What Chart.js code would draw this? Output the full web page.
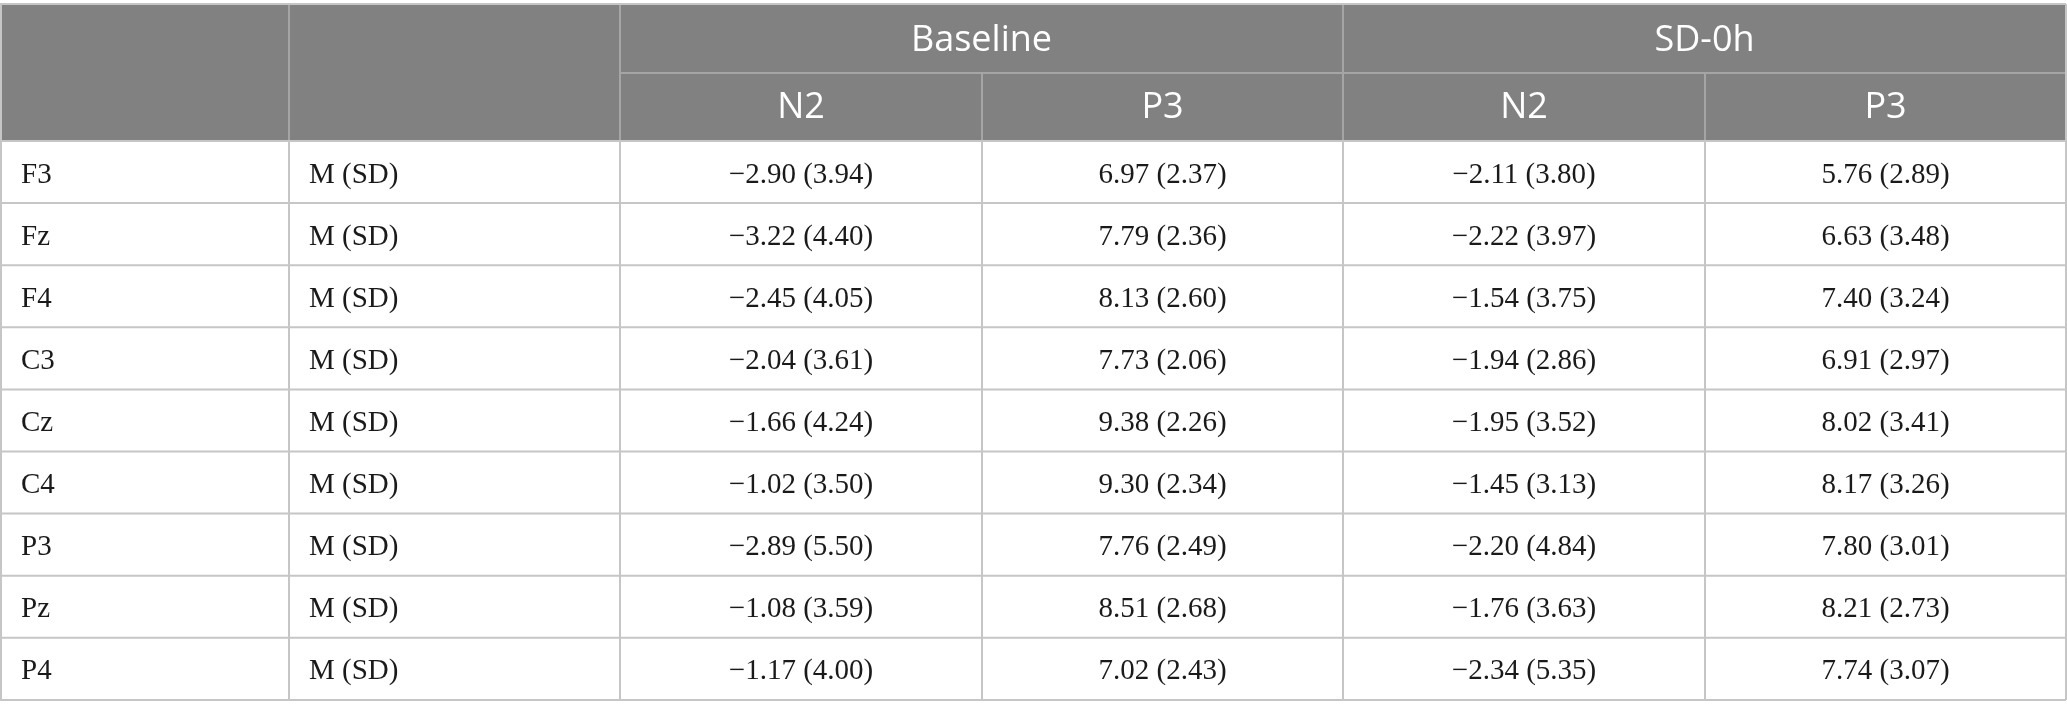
<!DOCTYPE html>
<html lang="en">
  <head>
    <meta charset="UTF-8" />
    <meta name="viewport" content="width=device-width, initial-scale=1.0" />
    <title>N2 and P3 amplitudes by electrode</title>
    <script src="https://cdn.jsdelivr.net/npm/chart.js@4.4.1/dist/chart.umd.min.js"></script>
    <style>
      html, body { margin: 0; padding: 0; background: #fff; }
      canvas { display: block; }
    </style>
  </head>
  <body>
    <canvas id="myChart" width="2067" height="714"></canvas>

    <script>
      // table values
      const electrodes = ["F3", "Fz", "F4", "C3", "Cz", "C4", "P3", "Pz", "P4"];
      const statLabel = "M (SD)";
      const conditions = ["Baseline", "SD-0h"];
      const components = ["N2", "P3"];

      const baselineN2M = [-2.90, -3.22, -2.45, -2.04, -1.66, -1.02, -2.89, -1.08, -1.17];
      const baselineN2SD = [3.94, 4.40, 4.05, 3.61, 4.24, 3.50, 5.50, 3.59, 4.00];
      const baselineP3M = [6.97, 7.79, 8.13, 7.73, 9.38, 9.30, 7.76, 8.51, 7.02];
      const baselineP3SD = [2.37, 2.36, 2.60, 2.06, 2.26, 2.34, 2.49, 2.68, 2.43];
      const sd0hN2M = [-2.11, -2.22, -1.54, -1.94, -1.95, -1.45, -2.20, -1.76, -2.34];
      const sd0hN2SD = [3.80, 3.97, 3.75, 2.86, 3.52, 3.13, 4.84, 3.63, 5.35];
      const sd0hP3M = [5.76, 6.63, 7.40, 6.91, 8.02, 8.17, 7.80, 8.21, 7.74];
      const sd0hP3SD = [2.89, 3.48, 3.24, 2.97, 3.41, 3.26, 3.01, 2.73, 3.07];

      // layout (in scale units, which match canvas pixels)
      const W = 2067, H = 714;
      const colEdges = [0, 289, 620, 982, 1343, 1705, 2066];
      const tableTop = 4, headerSplit = 73, headerBottom = 141, rowHeight = 62.1;
      const bodyFont = "29px 'Liberation Serif', 'Times New Roman', serif";
      const headFont = "36px 'Open Sans', 'Noto Sans', sans-serif";

      const rowCenter = (i) => headerBottom + rowHeight * (i + 0.5);
      const colCenter = (c) => (colEdges[c] + colEdges[c + 1]) / 2;
      const fmt = (v) => (v < 0 ? "\u2212" : "") + Math.abs(v).toFixed(2);

      const valueColumns = [
        [baselineN2M, baselineN2SD],
        [baselineP3M, baselineP3SD],
        [sd0hN2M, sd0hN2SD],
        [sd0hP3M, sd0hP3SD],
      ];

      function textSet(points, texts, opts) {
        return Object.assign(
          { type: "scatter", data: points, cellLabels: texts, pointRadius: 0, pointHoverRadius: 0 },
          opts
        );
      }

      const datasets = [];
      datasets.push(textSet(
        electrodes.map((e, i) => ({ x: colEdges[0] + 21, y: rowCenter(i) })),
        electrodes, { align: "left", font: bodyFont, color: "#1a1a1a", dy: 3 }));
      datasets.push(textSet(
        electrodes.map((e, i) => ({ x: colEdges[1] + 20, y: rowCenter(i) })),
        electrodes.map(() => statLabel), { align: "left", font: bodyFont, color: "#1a1a1a", dy: 3 }));
      valueColumns.forEach(([m, sd], c) => {
        datasets.push(textSet(
          m.map((v, i) => ({ x: colCenter(c + 2), y: rowCenter(i) })),
          m.map((v, i) => fmt(v) + " (" + sd[i].toFixed(2) + ")"),
          { align: "center", font: bodyFont, color: "#1a1a1a", dy: 3 }));
      });
      datasets.push(textSet(
        conditions.map((c, k) => ({ x: (colEdges[2 + 2 * k] + colEdges[4 + 2 * k]) / 2, y: (tableTop + headerSplit) / 2 })),
        conditions, { align: "center", font: headFont, color: "#ffffff", dy: 2 }));
      const compPoints = [], compTexts = [];
      conditions.forEach((c, k) => components.forEach((p, j) => {
        compPoints.push({ x: colCenter(2 + 2 * k + j), y: (headerSplit + headerBottom) / 2 });
        compTexts.push(p);
      }));
      datasets.push(textSet(compPoints, compTexts, { align: "center", font: headFont, color: "#ffffff", dy: 1 }));

      const tableGrid = {
        id: "tableGrid",
        beforeDatasetsDraw(chart) {
          const { ctx, scales: { x, y } } = chart;
          const px = (v) => x.getPixelForValue(v);
          const py = (v) => y.getPixelForValue(v);
          const bottom = headerBottom + rowHeight * electrodes.length;
          ctx.save();
          ctx.fillStyle = "#ffffff";
          ctx.fillRect(0, 0, chart.width, chart.height);
          ctx.fillStyle = "#808180";
          ctx.fillRect(px(0), py(tableTop), px(colEdges[6]) - px(0), py(headerBottom) - py(tableTop));

          const line = (x1, y1, x2, y2, color) => {
            ctx.strokeStyle = color;
            ctx.lineWidth = 2;
            ctx.beginPath();
            ctx.moveTo(px(x1), py(y1));
            ctx.lineTo(px(x2), py(y2));
            ctx.stroke();
          };
          const headLine = "#a4a5a4", bodyLine = "#c6c6c6";
          // header lines
          line(colEdges[2], headerSplit, colEdges[6], headerSplit, headLine);
          [1, 2, 4].forEach((c) => line(colEdges[c], tableTop, colEdges[c], headerBottom, headLine));
          [3, 5].forEach((c) => line(colEdges[c], headerSplit, colEdges[c], headerBottom, headLine));
          // body lines
          for (let i = 0; i <= electrodes.length; i++) {
            const yy = headerBottom + rowHeight * i;
            line(0, yy, colEdges[6], yy, bodyLine);
          }
          for (let c = 1; c < colEdges.length - 1; c++) line(colEdges[c], headerBottom, colEdges[c], bottom, bodyLine);
          // outer border
          line(0, tableTop, colEdges[6], tableTop, bodyLine);
          line(1, tableTop, 1, bottom, bodyLine);
          line(colEdges[6], tableTop, colEdges[6], bottom, bodyLine);
          ctx.restore();
        },
        afterDatasetsDraw(chart) {
          const { ctx } = chart;
          ctx.save();
          ctx.textBaseline = "middle";
          chart.data.datasets.forEach((ds, d) => {
            const meta = chart.getDatasetMeta(d);
            ctx.font = ds.font;
            ctx.fillStyle = ds.color;
            ctx.textAlign = ds.align;
            meta.data.forEach((pt, i) => ctx.fillText(ds.cellLabels[i], pt.x, pt.y + ds.dy));
          });
          ctx.restore();
        },
      };

      const ctx = document.getElementById("myChart").getContext("2d");
      const myChart = new Chart(ctx, {
        type: "scatter",
        data: { datasets },
        options: {
          responsive: false,
          animation: false,
          devicePixelRatio: 1,
          layout: { padding: 0 },
          events: [],
          plugins: { legend: { display: false }, tooltip: { enabled: false } },
          scales: {
            x: { type: "linear", min: 0, max: W, display: false },
            y: { type: "linear", min: 0, max: H, reverse: true, display: false },
          },
        },
        plugins: [tableGrid],
      });
    </script>
  </body>
</html>
